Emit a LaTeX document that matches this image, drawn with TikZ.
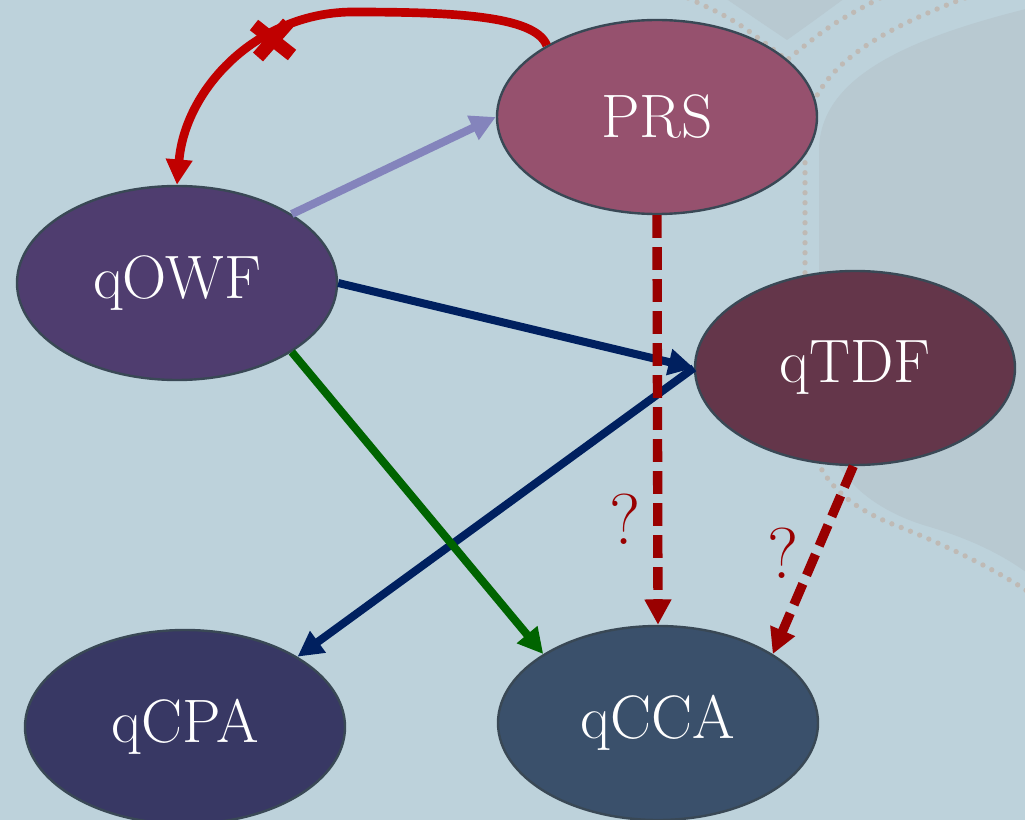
\documentclass[tikz,border=0pt]{standalone}
\usetikzlibrary{shapes.geometric,arrows.meta}
\definecolor{bgblue}{HTML}{BDD2DB}
\definecolor{bgshade}{HTML}{B8C9D1}
\definecolor{dotgrey}{HTML}{BFBAB5}
\definecolor{rimgrey}{HTML}{394855}
\definecolor{prscol}{HTML}{96516E}
\definecolor{owfcol}{HTML}{4F3D6F}
\definecolor{tdfcol}{HTML}{64364A}
\definecolor{cpacol}{HTML}{383864}
\definecolor{ccacol}{HTML}{3A506B}
\definecolor{sepred}{HTML}{C00000}
\definecolor{openred}{HTML}{990000}
\definecolor{lavender}{HTML}{8484BC}
\definecolor{navy}{HTML}{00205F}
\definecolor{implgreen}{HTML}{006400}
\tikzset{
  prim/.style={ellipse, draw=rimgrey, line width=1.8pt, minimum width=240pt,
    minimum height=145.5pt, inner sep=0pt, text=white,
    font=\fontsize{46}{50}\selectfont},
  tip/.style={-{Triangle[length=19pt,width=19pt]}},
  implies/.style={tip, line width=6pt},
  openq/.style={tip, openred, line width=7pt, dash pattern=on 17pt off 7pt},
  qmark/.style={text=openred, font=\fontsize{54}{58}\selectfont},
  dots/.style={dotgrey, line width=4pt, line cap=round, dash pattern=on 0pt off 7.5pt},
}
\begin{document}
\begin{tikzpicture}[x=0.75pt,y=-0.75pt]
  % backdrop
  \fill[bgblue] (0,0) rectangle (1025,820);
  \useasboundingbox (0,0) rectangle (1025,820);
  \fill[bgshade] (725,-2) .. controls (750,15) .. (787,40) .. controls (815,20) .. (845,-2) -- cycle;
  \fill[bgshade] (1030,8) .. controls (900,40) and (820,80) .. (819,150) -- (819,400)
    .. controls (820,470) and (870,510) .. (930,527)
    .. controls (980,542) and (1010,560) .. (1030,575) -- cycle;
  \draw[dots] (688,-2) .. controls (735,20) .. (787,60);
  \draw[dots] (880,-2) .. controls (830,25) .. (787,60);
  \draw[dots] (965,-2) .. controls (880,30) and (806,70) .. (805,140) -- (805,400)
    .. controls (805,470) and (840,505) .. (900,527)
    .. controls (950,547) and (1000,572) .. (1030,593);

  % primitives
  \node[prim, fill=prscol] (PRS) at (657,117) {PRS};
  \node[prim, fill=owfcol] (qOWF) at (177,283) {qOWF};
  \node[prim, fill=tdfcol] (qTDF) at (855,368) {qTDF};
  \node[prim, fill=cpacol] (qCPA) at (185,727) {qCPA};
  \node[prim, fill=ccacol] (qCCA) at (658,723) {qCCA};

  % separation
  \coordinate (sepTop) at (350,12);
  \draw[tip, sepred, line width=6.5pt] (PRS.147) .. controls (535,15) and (450,12) .. (sepTop)
    .. controls (255,14) and (185,90) .. (qOWF.north);
  \coordinate (crossC) at (273,40);
  \draw[sepred, line width=10pt] ([shift={(-19,-15)}]crossC) -- ([shift={(19,15)}]crossC);
  \draw[sepred, line width=10pt] ([shift={(-15,17)}]crossC) -- ([shift={(15,-17)}]crossC);

  % implications
  \draw[implies, lavender] (qOWF.31) -- (PRS.west);
  \draw[implies, navy] (qOWF.east) -- (qTDF.west);
  \draw[implies, navy] (qTDF.west) -- (qCPA.32);
  \draw[implies, implgreen] (qOWF.-31) -- (qCCA.149);

  % open questions
  \draw[openq] (PRS.south) -- (qCCA.north);
  \draw[openq] (qTDF.-91) -- (qCCA.31);
  \node[qmark] (q1) at (625,519) {?};
  \node[qmark] (q2) at (783,553) {?};
\end{tikzpicture}
\end{document}
